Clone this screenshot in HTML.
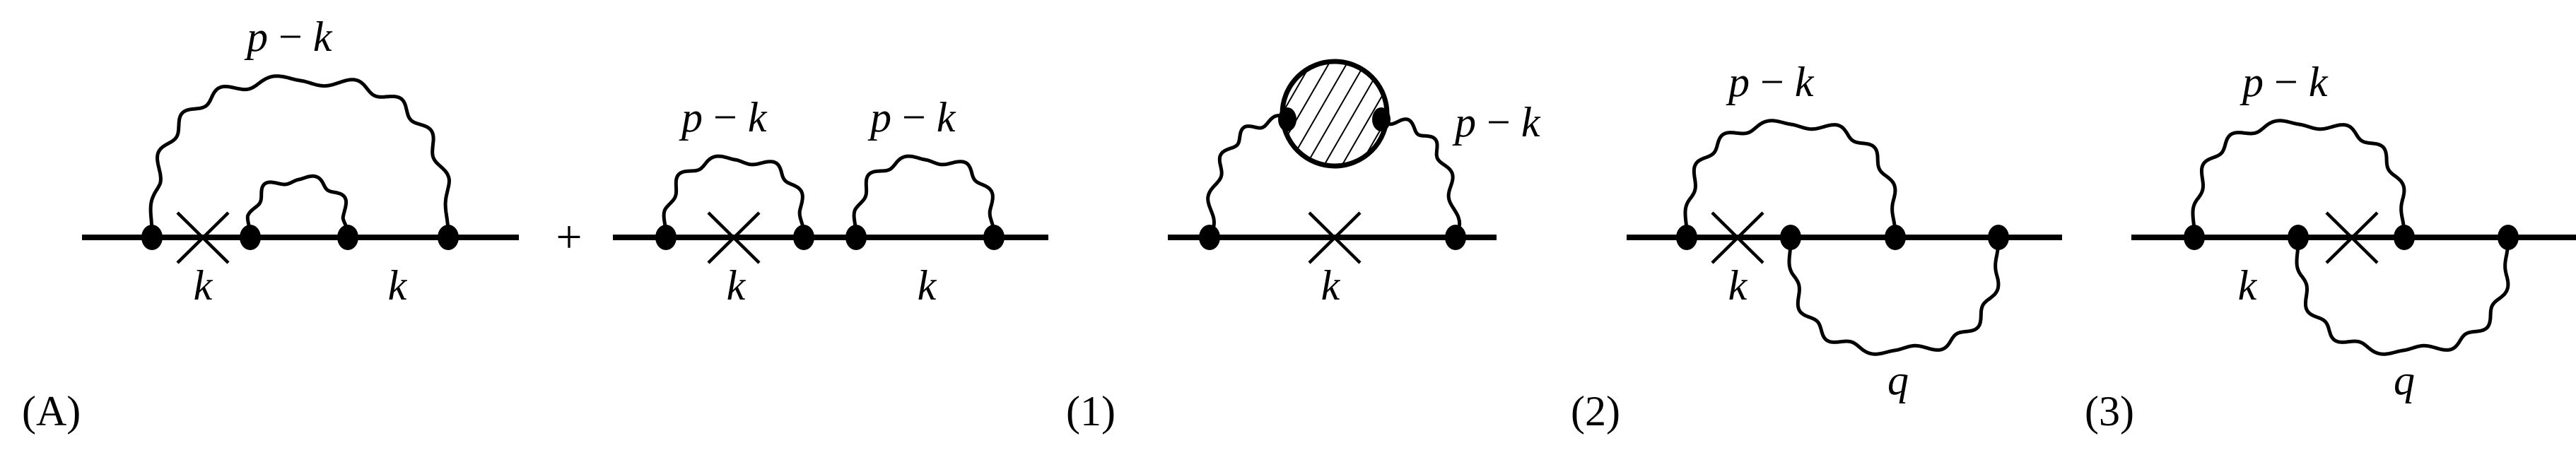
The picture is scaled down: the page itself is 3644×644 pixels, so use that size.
<!DOCTYPE html>
<html><head><meta charset="utf-8">
<style>
html,body{margin:0;padding:0;background:#fff;}
svg{display:block;}
</style></head>
<body>
<svg id="s" width="3644" height="644" viewBox="0 0 3644 644" xmlns="http://www.w3.org/2000/svg">
<defs>
<pattern id="hatch" patternUnits="userSpaceOnUse" width="22" height="22" patternTransform="rotate(30)">
<rect width="22" height="22" fill="#fff"/>
<line x1="0" y1="0" x2="0" y2="22" stroke="#000" stroke-width="4"/>
</pattern>
</defs>
<g stroke="#000" stroke-width="8" fill="none">
<line x1="116" y1="336" x2="734" y2="336"/>
<line x1="867" y1="336" x2="1483" y2="336"/>
<line x1="1652" y1="336" x2="2117" y2="336"/>
<line x1="2301" y1="336" x2="2917" y2="336"/>
<line x1="3015" y1="336" x2="3644" y2="336"/>
</g>
<g stroke="#000" stroke-width="4.5">
<path d="M251 301L323 372M323 301L251 372"/>
<path d="M1002 301L1074 372M1074 301L1002 372"/>
<path d="M1852 301L1924 372M1924 301L1852 372"/>
<path d="M2422 301L2494 372M2494 301L2422 372"/>
<path d="M3291 301L3363 372M3363 301L3291 372"/>
</g>
<g id="waves" stroke="#000" stroke-width="5" fill="none"></g>
<circle cx="1888" cy="161" r="74" fill="url(#hatch)" stroke="#000" stroke-width="7"/>
<g fill="#000">
<ellipse cx="215" cy="336" rx="15" ry="18"/><ellipse cx="354" cy="336" rx="15" ry="18"/>
<ellipse cx="492" cy="336" rx="15" ry="18"/><ellipse cx="634" cy="336" rx="15" ry="18"/>
<ellipse cx="942" cy="336" rx="15" ry="18"/><ellipse cx="1137" cy="336" rx="15" ry="18"/>
<ellipse cx="1211" cy="336" rx="15" ry="18"/><ellipse cx="1406" cy="336" rx="15" ry="18"/>
<ellipse cx="1711" cy="336" rx="15" ry="18"/><ellipse cx="2059" cy="336" rx="15" ry="18"/>
<ellipse cx="1821" cy="169" rx="13" ry="17"/><ellipse cx="1954" cy="169" rx="13" ry="17"/>
<ellipse cx="2386" cy="336" rx="15" ry="18"/><ellipse cx="2533" cy="336" rx="15" ry="18"/>
<ellipse cx="2681" cy="336" rx="15" ry="18"/><ellipse cx="2827" cy="336" rx="15" ry="18"/>
<ellipse cx="3104" cy="336" rx="15" ry="18"/><ellipse cx="3251" cy="336" rx="15" ry="18"/>
<ellipse cx="3401" cy="336" rx="15" ry="18"/><ellipse cx="3548" cy="336" rx="15" ry="18"/>
</g>
<g font-size="60" font-family="Liberation Serif, serif" fill="#000">
<text x="349" y="72"><tspan font-style="italic">p</tspan> − <tspan font-style="italic">k</tspan></text>
<text x="964" y="186"><tspan font-style="italic">p</tspan> − <tspan font-style="italic">k</tspan></text>
<text x="1231" y="186"><tspan font-style="italic">p</tspan> − <tspan font-style="italic">k</tspan></text>
<text x="2058" y="193"><tspan font-style="italic">p</tspan> − <tspan font-style="italic">k</tspan></text>
<text x="2445" y="136"><tspan font-style="italic">p</tspan> − <tspan font-style="italic">k</tspan></text>
<text x="3172" y="136"><tspan font-style="italic">p</tspan> − <tspan font-style="italic">k</tspan></text>
<g font-style="italic" text-anchor="middle">
<text x="287" y="424">k</text><text x="562" y="424">k</text>
<text x="1041" y="424">k</text><text x="1311" y="424">k</text>
<text x="1882" y="424">k</text><text x="2458" y="424">k</text>
<text x="3179" y="424">k</text>
<text x="2685" y="558">q</text><text x="3401" y="558">q</text>
</g>
<text x="805" y="357" text-anchor="middle" font-size="66">+</text>
<text x="31" y="602">(A)</text>
<text x="1508" y="602">(1)</text>
<text x="2222" y="602">(2)</text>
<text x="2949" y="602">(3)</text>
</g>
</svg>
<script>
(function(){
var g=document.getElementById('waves');
function add(d){var p=document.createElementNS('http://www.w3.org/2000/svg','path');p.setAttribute('d',d);g.appendChild(p);}
function wavy(x1,x2,y0,h,up,n,amp){
 var cx=(x1+x2)/2, rx=(x2-x1)/2, N=400, d='';
 var sgn=up?-1:1;
 for(var i=0;i<=N;i++){
  var t=i/N, th=Math.PI*(1-t);
  var c=Math.cos(th), s=Math.sin(th);
  // squarish superellipse
  var cc=Math.sign(c)*Math.pow(Math.abs(c),0.75), ss=Math.pow(s,0.75);
  var ex=cx+rx*cc, ey=y0+sgn*h*ss;
  var nx=cc/rx, ny=ss/h; var L=Math.sqrt(nx*nx+ny*ny)||1;
  nx/=L; ny=sgn*ny/L;
  var w=amp*Math.sin(2*Math.PI*n*t)*Math.min(1,Math.sin(Math.PI*t)*4);
  d+=(i?'L':'M')+(ex+w*nx).toFixed(1)+' '+(ey+w*ny).toFixed(1);
 }
 add(d);
}
wavy(215,634,336,222,true,9,7);
wavy(354,492,336,82,true,4,6);
wavy(942,1137,336,110,true,5,6);
wavy(1211,1406,336,110,true,5,6);
wavy(2386,2681,336,160,true,7,6);
wavy(2533,2827,336,160,false,7,6);
wavy(3104,3401,336,160,true,7,6);
wavy(3251,3548,336,160,false,7,6);
function leg(xa,ya,xb,yb,n,amp){
 var N=200,d='';
 for(var i=0;i<=N;i++){
  var t=i/N, cxp=xa, cyp=yb;
  var x=(1-t)*(1-t)*xa+2*(1-t)*t*cxp+t*t*xb;
  var y=(1-t)*(1-t)*ya+2*(1-t)*t*cyp+t*t*yb;
  var dx=2*(1-t)*(cxp-xa)+2*t*(xb-cxp), dy=2*(1-t)*(cyp-ya)+2*t*(yb-cyp);
  var L=Math.sqrt(dx*dx+dy*dy)||1;
  var w=amp*Math.sin(2*Math.PI*n*t);
  x+=-dy/L*w; y+=dx/L*w;
  d+=(i?'L':'M')+x.toFixed(1)+' '+y.toFixed(1);
 }
 add(d);
}
leg(1711,336,1821,169,4,6);
leg(2059,336,1954,169,4,6);
})();
</script>
</body></html>
